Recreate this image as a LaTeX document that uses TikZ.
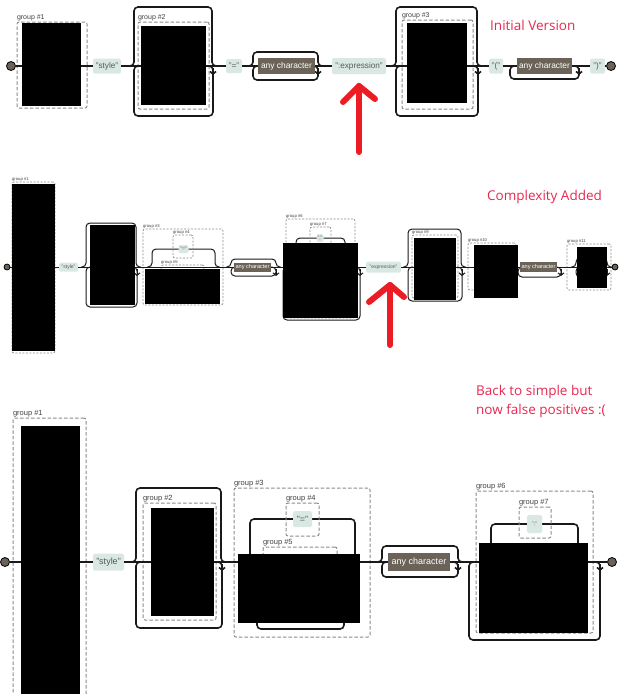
\documentclass[tikz,border=0pt]{standalone}
\usepackage{fontspec}
\setmainfont{Liberation Sans}
\newfontfamily\notefont{Open Sans}
\usetikzlibrary{arrows.meta,fit}
\definecolor{termfill}{HTML}{DAE8E4}
\definecolor{anyfill}{HTML}{6B6358}
\definecolor{grpgray}{HTML}{8A8A8A}
\definecolor{notered}{HTML}{E8264F}
\definecolor{arrowred}{HTML}{EC1C24}
\tikzset{rail/.style={line width=1.6pt,black!90},
         term/.style={fill=termfill,rounded corners=1.5pt,inner sep=0pt,text=black!65},
         anyc/.style={fill=anyfill,inner sep=0pt,text=white},
         grp/.style={draw=grpgray,dash pattern=on 3.5pt off 2pt,line width=1pt,rounded corners=2pt,inner sep=0pt},
         redact/.style={fill=black,inner sep=0pt},
         glabel/.style={anchor=south west,inner sep=.3pt,text=black!75},
         enddot/.style={circle,draw=black,fill=anyfill,inner sep=0pt,line width=.8pt},
         note/.style={anchor=base west,inner sep=0pt,text=notered,align=left,
                      font=\notefont\fontsize{13.5}{18.5}\selectfont},
         redarrow/.style={line width=6pt,draw=arrowred,line cap=round,line join=round}}
% skip over a group: left x, right x, top y, base y
\newcommand{\railskip}[4]{\draw[rail,rounded corners=4pt] (#1-5,#4) -| (#1,#3) -| (#2,#4) -- (#2+5,#4);}
% repeat loop under a group: left x, right x, bottom y, base y
\newcommand{\railloop}[4]{\draw[rail,rounded corners=4pt] (#2-5,#4) -| (#2,#3) -| (#1,#4) -- (#1+5,#4);
  \draw[rail,-{Straight Barb[length=2.5pt,width=6pt]}] (#2,#4+2) -- (#2,#4+9);}

\begin{document}
\begin{tikzpicture}[x=1pt,y=-1pt]
  \useasboundingbox (0,0) rectangle (642,694);

  % initial version
  \begin{scope}[term/.append style={font=\fontsize{8.2}{9}\selectfont},
                anyc/.append style={font=\fontsize{8.4}{9}\selectfont},
                glabel/.append style={font=\fontsize{7}{7}\selectfont}]
    \railskip{134}{212}{7}{66} \railloop{134}{213}{116}{66}
    \railskip{253}{318}{52}{66} \railloop{253}{318}{80}{66}
    \railskip{396}{477}{7}{66} \railloop{396}{478}{116}{66}
    \railloop{510}{579}{79}{66}
    \node[grp,fit={(17,22) (87,108)}] (r1g1) {};
    \node[glabel] (r1l1) at (r1g1.north west) {group \#1};
    \node[grp,fit={(138,22) (209,109)}] (r1g2) {};
    \node[glabel] (r1l2) at (r1g2.north west) {group \#2};
    \node[grp,fit={(402,20) (473,109)}] (r1g3) {};
    \node[glabel] (r1l3) at (r1g3.north west) {group \#3};
    \node[enddot,minimum size=9pt] (r1start) at (11,66) {};
    \node[term,minimum width=28pt,minimum height=15pt] (r1style) at (107,66) {"style"};
    \node[term,minimum width=16pt,minimum height=14pt] (r1eq) at (234,66) {"="};
    \node[anyc,minimum width=57pt,minimum height=16pt] (r1any) at (286.5,66) {any character};
    \node[term,minimum width=54pt,minimum height=16pt] (r1expr) at (359,66) {":expression"};
    \node[term,minimum width=14pt,minimum height=15pt] (r1open) at (496,66) {"("};
    \node[anyc,minimum width=55pt,minimum height=16pt] (r1anyb) at (544.5,66) {any character};
    \node[term,minimum width=15pt,minimum height=15pt] (r1close) at (597.5,66) {")"};
    \node[enddot,minimum size=9pt] (r1end) at (611,66) {};
    \draw[rail] (r1start) -- (r1style) -- (r1eq) -- (r1any) -- (r1expr) -- (r1open) -- (r1anyb) -- (r1close) -- (r1end);
    \node[redact,fit={(22,23) (81,106)}] (r1k1) {};
    \node[redact,fit={(141,26) (206,105)}] (r1k2) {};
    \node[redact,fit={(407,23) (467,103)}] (r1k3) {};
    \node[note] (note1) at (490,30) {Initial Version};
    \coordinate (arr1tail) at (359,152);
    \coordinate (arr1tip) at (359,86);
    \draw[redarrow] (arr1tail) -- (arr1tip);
    \draw[redarrow] (343,102) -- (arr1tip) -- (375,99);
  \end{scope}

  % complexity added
  \begin{scope}[rail/.append style={line width=1pt},
                term/.append style={font=\fontsize{5}{5}\selectfont},
                anyc/.append style={font=\fontsize{5.6}{6}\selectfont},
                glabel/.append style={font=\fontsize{4.2}{4.2}\selectfont},
                grp/.append style={line width=.7pt,dash pattern=on 2pt off 1.5pt}]
    \railskip{86}{136}{223}{267} \railloop{86}{137}{307}{267}
    \railskip{152}{215}{249}{267}
    \railskip{231}{276}{259}{267} \railloop{231}{276}{276}{267}
    \railskip{296}{345}{238}{267} \railloop{283}{360}{320}{267}
    \railskip{408}{461}{229}{267} \railloop{408}{462}{301}{267}
    \railloop{518}{561}{277}{267}
    \railskip{576}{607}{258}{267} \railloop{576}{607}{277}{267}
    \node[grp,fit={(12,182) (55,353)}] (r2g1) {};
    \node[glabel] (r2l1) at (r2g1.north west) {group \#1};
    \node[grp,fit={(143,229) (223,305)}] (r2g3) {};
    \node[glabel] (r2l3) at (r2g3.north west) {group \#3};
    \node[grp,fit={(173,235) (193,258)}] (r2g4) {};
    \node[glabel] (r2l4) at (r2g4.north west) {group \#4};
    \node[grp,fit={(161,265) (204,300)}] (r2g5) {};
    \node[glabel] (r2l5) at (r2g5.north west) {group \#5};
    \node[grp,fit={(286,219) (355,318)}] (r2g6) {};
    \node[glabel] (r2l6) at (r2g6.north west) {group \#6};
    \node[grp,fit={(310,227) (331,253)}] (r2g7) {};
    \node[glabel] (r2l7) at (r2g7.north west) {group \#7};
    \node[grp,fit={(412,235) (458,298)}] (r2g9) {};
    \node[glabel] (r2l9) at (r2g9.north west) {group \#9};
    \node[grp,fit={(468,243) (516,290)}] (r2g10) {};
    \node[glabel] (r2l10) at (r2g10.north west) {group \#10};
    \node[grp,fit={(567,244) (611,290)}] (r2g11) {};
    \node[glabel] (r2l11) at (r2g11.north west) {group \#11};
    \node[enddot,minimum size=6pt] (r2start) at (7,267) {};
    \node[term,minimum width=19pt,minimum height=9pt] (r2style) at (68.5,267) {"style"};
    \node[term,minimum width=10pt,minimum height=8pt] (r2eq) at (183.5,249) {"="};
    \node[anyc,minimum width=37pt,minimum height=9pt] (r2any) at (252.5,267) {any character};
    \node[term,minimum width=7pt,minimum height=8pt] (r2semi) at (320,238) {";"};
    \node[term,minimum width=35pt,minimum height=11pt] (r2expr) at (383.5,267) {"expression"};
    \node[anyc,minimum width=37pt,minimum height=10pt] (r2anyb) at (538.5,267) {any character};
    \node[enddot,minimum size=6pt] (r2end) at (615,267) {};
    \draw[rail] (r2start) -- (r2style) -- (r2any) -- (r2expr) -- (r2anyb) -- (r2end);
    \node[redact,fit={(12,184) (55,351)}] (r2k1) {};
    \node[redact,fit={(90,225) (135,305)}] (r2k2) {};
    \node[redact,fit={(145,269) (220,304)}] (r2k3) {};
    \node[redact,fit={(283,243) (358,318)}] (r2k6) {};
    \node[redact,fit={(414,238) (456,300)}] (r2k9) {};
    \node[redact,fit={(474,245) (518,298)}] (r2k10) {};
    \node[redact,fit={(577,247) (607,288)}] (r2k11) {};
    \node[note] (note2) at (487,200) {Complexity Added};
    \coordinate (arr2tail) at (390,345);
    \coordinate (arr2tip) at (390,285);
    \draw[redarrow] (arr2tail) -- (arr2tip);
    \draw[redarrow] (369,302) -- (arr2tip) -- (404,297);
  \end{scope}

  % back to simple
  \begin{scope}[term/.append style={font=\fontsize{9}{9}\selectfont},
                anyc/.append style={font=\fontsize{9}{9}\selectfont},
                glabel/.append style={font=\fontsize{7.5}{7.5}\selectfont}]
    \railskip{136}{221}{488}{562} \railloop{136}{222}{628}{562}
    \railskip{250}{355}{519}{562} \railloop{257}{344}{629}{562}
    \railskip{382}{458}{546}{562} \railloop{382}{458}{577}{562}
    \railskip{491}{578}{524}{562} \railloop{469}{600}{640}{562}
    \node[grp,fit={(13,418) (86,700)}] (r3g1) {};
    \node[glabel] (r3l1) at (r3g1.north west) {group \#1};
    \node[grp,fit={(143,503) (216,620)}] (r3g2) {};
    \node[glabel] (r3l2) at (r3g2.north west) {group \#2};
    \node[grp,fit={(234,488) (370,637)}] (r3g3) {};
    \node[glabel] (r3l3) at (r3g3.north west) {group \#3};
    \node[grp,fit={(286,503) (319,536)}] (r3g4) {};
    \node[glabel] (r3l4) at (r3g4.north west) {group \#4};
    \node[grp,fit={(263,547) (337,600)}] (r3g5) {};
    \node[glabel] (r3l5) at (r3g5.north west) {group \#5};
    \node[grp,fit={(476,491) (593,633)}] (r3g6) {};
    \node[glabel] (r3l6) at (r3g6.north west) {group \#6};
    \node[grp,fit={(519,507) (551,538)}] (r3g7) {};
    \node[glabel] (r3l7) at (r3g7.north west) {group \#7};
    \node[enddot,minimum size=9pt] (r3start) at (5,562) {};
    \node[term,minimum width=31pt,minimum height=17pt] (r3style) at (108.5,562) {"style"};
    \node[term,minimum width=19pt,minimum height=16pt] (r3eq) at (302.5,519) {"="};
    \node[anyc,minimum width=62pt,minimum height=18pt] (r3any) at (419,562) {any character};
    \node[term,minimum width=15pt,minimum height=18pt,font=\fontsize{5}{5}\selectfont] (r3semi) at (534.5,524) {";"};
    \node[enddot,minimum size=9pt] (r3end) at (612,562) {};
    \draw[rail] (r3start) -- (r3style) -- (r3any) -- (r3end);
    \node[redact,fit={(21,426) (80,700)}] (r3k1) {};
    \node[redact,fit={(151,508) (214,616)}] (r3k2) {};
    \node[redact,fit={(238,554) (360,623)}] (r3k3) {};
    \node[redact,fit={(479,543) (588,633)}] (r3k6) {};
    \node[note] (note3) at (476,414) {Back to simple but\\now false positives :(};
  \end{scope}
\end{tikzpicture}
\end{document}
